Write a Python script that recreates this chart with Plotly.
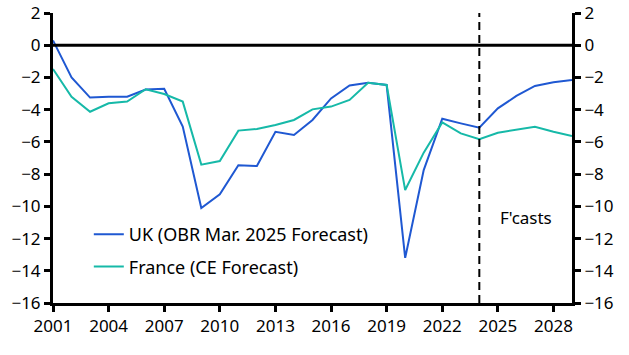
import plotly.graph_objects as go

years = list(range(2001, 2030))
uk = [0.3, -2.0, -3.25, -3.2, -3.2, -2.75, -2.7, -5.05, -10.1, -9.25,
      -7.45, -7.5, -5.37, -5.57, -4.64, -3.3, -2.5, -2.33, -2.47, -13.2,
      -7.75, -4.56, -4.85, -5.12, -3.92, -3.15, -2.53, -2.3, -2.16]
france = [-1.48, -3.2, -4.13, -3.6, -3.5, -2.73, -3.03, -3.5, -7.41, -7.19,
          -5.3, -5.2, -4.95, -4.64, -3.98, -3.81, -3.4, -2.33, -2.47, -8.99,
          -6.67, -4.79, -5.47, -5.84, -5.43, -5.26, -5.06, -5.37, -5.64]
x_ticks = list(range(2001, 2029, 3))
y_ticks = list(range(-16, 3, 2))
forecast_start = 2024

FONT = "Noto Sans"
FS = 17

fig = go.Figure()
fig.add_trace(go.Scatter(x=years, y=uk, mode="lines", name="UK (OBR Mar. 2025 Forecast)",
                         legendgroup="uk", line=dict(color="#1f58d2", width=2)))
fig.add_trace(go.Scatter(x=years, y=france, mode="lines", name="France (CE Forecast)",
                         legendgroup="fr", line=dict(color="#16b9a8", width=2)))
# invisible trace for right axis
fig.add_trace(go.Scatter(x=years, y=uk, mode="lines", yaxis="y2", showlegend=False,
                         line=dict(width=0), hoverinfo="skip", opacity=0))

fig.add_shape(type="line", x0=forecast_start, x1=forecast_start, y0=-16, y1=2,
              xref="x", yref="y", line=dict(color="black", width=2, dash="8px,5px"))
fig.add_shape(type="line", x0=2001, x1=2029, y0=0, y1=0, xref="x", yref="y",
              line=dict(color="black", width=3))

fig.add_annotation(x=2026.5, y=-10.7, text="F'casts", showarrow=False,
                   font=dict(family=FONT, size=FS, color="black"))

axis_common = dict(range=[-16, 2], tickvals=y_ticks, showgrid=False, zeroline=False,
                   showline=True, linecolor="black", linewidth=3, ticks="outside",
                   ticklen=6, tickwidth=3, tickcolor="black", automargin=False,
                   tickfont=dict(family=FONT, size=FS, color="black"))

fig.update_layout(
    width=629, height=355,
    margin=dict(l=53, r=57, t=13, b=52),
    plot_bgcolor="white", paper_bgcolor="white",
    font=dict(family=FONT, size=FS, color="black"),
    xaxis=dict(range=[2001, 2029], tickvals=x_ticks, showgrid=False, zeroline=False,
               showline=True, linecolor="black", linewidth=3, ticks="outside",
               ticklen=6, tickwidth=3, tickcolor="black", automargin=False,
               tickfont=dict(family=FONT, size=FS, color="black")),
    yaxis=dict(**axis_common, side="left"),
    yaxis2=dict(**axis_common, side="right", overlaying="y"),
    legend=dict(x=0.069, y=0.30, xanchor="left", yanchor="top",
                bgcolor="rgba(0,0,0,0)", font=dict(family=FONT, size=18),
                tracegroupgap=6, itemwidth=30),
    showlegend=True,
)

fig.write_html(
    "out.html",
    config={"displayModeBar": False},
    post_script="document.body.style.margin='0';document.body.style.overflow='hidden';",
)
